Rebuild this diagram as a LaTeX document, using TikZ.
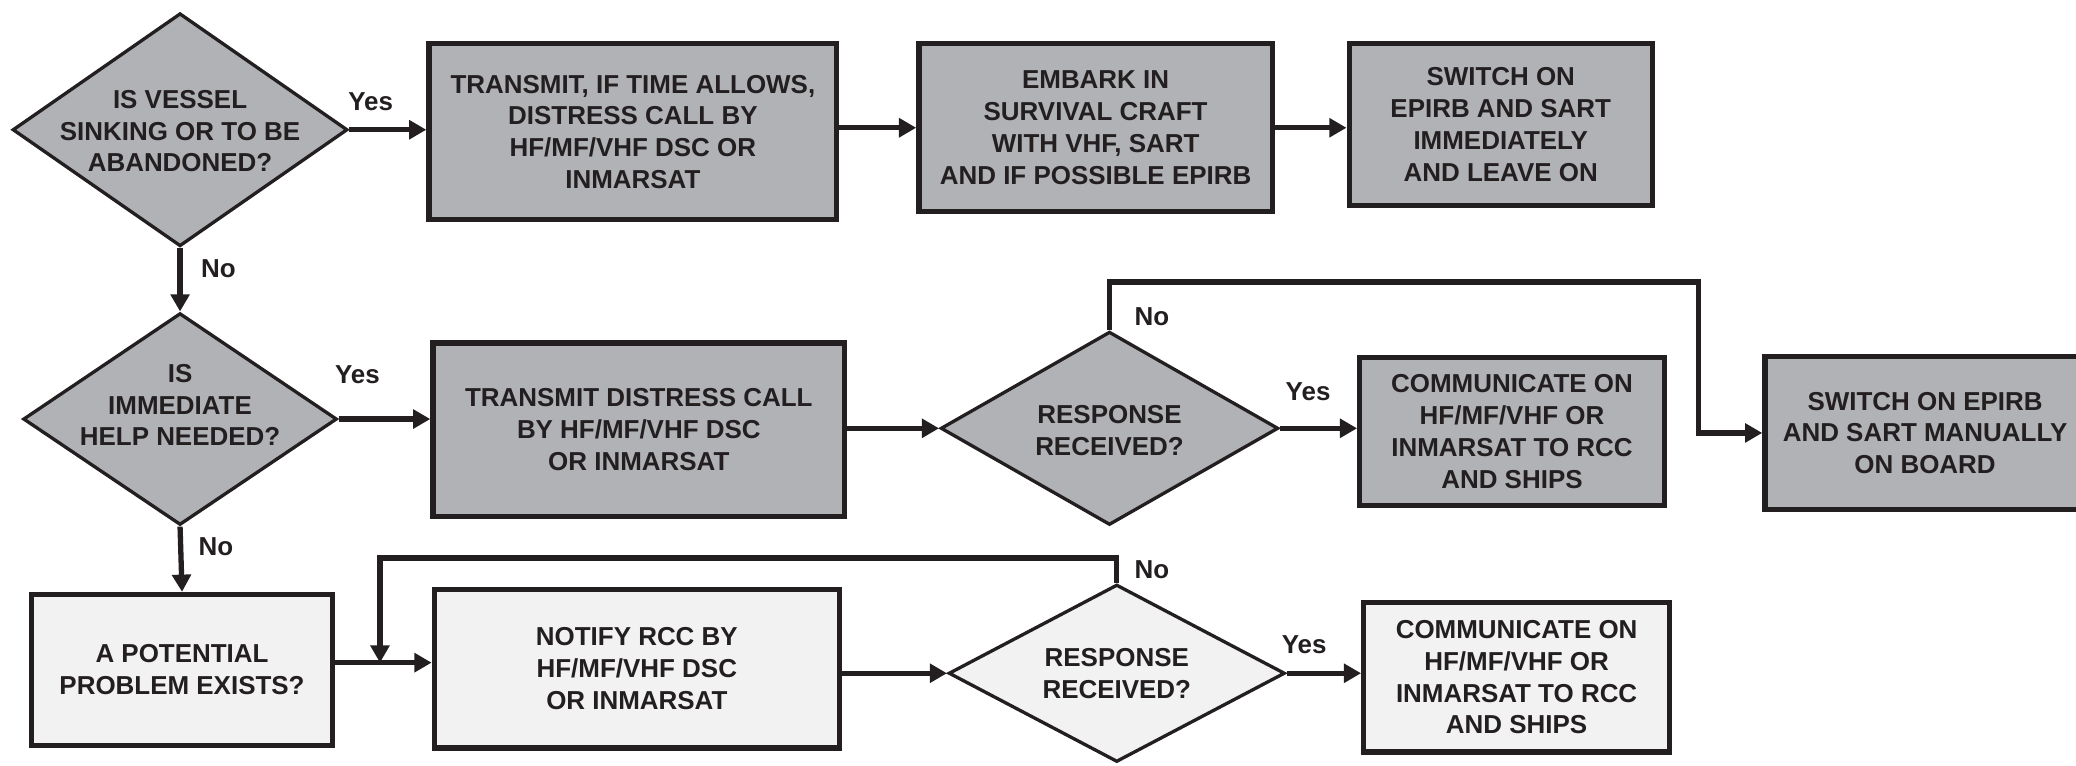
\documentclass[tikz,border=0pt]{standalone}
\usepackage{fontspec}
\setmainfont{Liberation Sans}
\usetikzlibrary{shapes.geometric,arrows.meta}
\definecolor{ink}{HTML}{231F20}
\definecolor{darkfill}{RGB}{177,178,182}
\definecolor{lightfill}{RGB}{242,242,242}
\newcommand{\flowfont}{\fontsize{19.6}{24}\selectfont\bfseries}
\tikzset{
 box/.style={draw=ink, line width=4pt, align=center, inner sep=0pt, font=\flowfont, text=ink},
 gbox/.style={box, fill=darkfill},
 lbox/.style={box, fill=lightfill},
 dia/.style={draw=ink, diamond, line width=2.5pt, inner sep=0pt},
 gdia/.style={dia, fill=darkfill},
 ldia/.style={dia, fill=lightfill},
 txt/.style={align=center, inner sep=0pt, font=\flowfont, text=ink},
 lbl/.style={inner sep=0pt, font=\flowfont, text=ink},
 conn/.style={draw=ink, line width=4pt, -{Triangle[length=13pt,width=14pt]}},
}
\begin{document}
\begin{tikzpicture}[x=1pt,y=1pt]
\fill[white] (0,0) rectangle (1568,-578);
\useasboundingbox (0,0) rectangle (1568,-578);
% row 1
\node[gdia, minimum width=253pt, minimum height=176pt] (d1) at (136,-98) {};
\node[txt] (d1t) at (136,-99) {IS VESSEL\\SINKING OR TO BE\\ABANDONED?};
\node[gbox, minimum width=308pt, minimum height=133pt] (b1) at (478,-99.5) {TRANSMIT, IF TIME ALLOWS,\\DISTRESS CALL BY\\HF/MF/VHF DSC OR\\INMARSAT};
\node[gbox, minimum width=267pt, minimum height=127pt] (b2) at (827.5,-96.5) {EMBARK IN\\SURVIVAL CRAFT\\WITH VHF, SART\\AND IF POSSIBLE EPIRB};
\node[gbox, minimum width=229pt, minimum height=122pt] (b3) at (1133.5,-94) {SWITCH ON\\EPIRB AND SART\\IMMEDIATELY\\AND LEAVE ON};
% row 2
\node[gdia, minimum width=237pt, minimum height=160pt] (d2) at (136,-316.5) {};
\node[txt] (d2t) at (136,-306) {IS\\IMMEDIATE\\HELP NEEDED?};
\node[gbox, minimum width=311pt, minimum height=131pt] (b4) at (482.5,-324.5) {TRANSMIT DISTRESS CALL\\BY HF/MF/VHF DSC\\OR INMARSAT};
\node[gdia, minimum width=255pt, minimum height=146pt] (d3) at (838,-323.5) {};
\node[txt] (d3t) at (838,-325) {RESPONSE\\RECEIVED?};
\node[gbox, minimum width=230pt, minimum height=112pt] (b5) at (1142,-326) {COMMUNICATE ON\\HF/MF/VHF OR\\INMARSAT TO RCC\\AND SHIPS};
\node[gbox, minimum width=242pt, minimum height=116pt] (b6) at (1454,-327) {SWITCH ON EPIRB\\AND SART MANUALLY\\ON BOARD};
% row 3
\node[lbox, minimum width=227pt, minimum height=114pt] (b7) at (137.5,-506) {A POTENTIAL\\PROBLEM EXISTS?};
\node[lbox, minimum width=306pt, minimum height=120pt] (b8) at (481,-505) {NOTIFY RCC BY\\HF/MF/VHF DSC\\OR INMARSAT};
\node[ldia, minimum width=254pt, minimum height=134pt] (d4) at (843.5,-508.5) {};
\node[txt] (d4t) at (843.5,-509) {RESPONSE\\RECEIVED?};
\node[lbox, minimum width=231pt, minimum height=113pt] (b9) at (1145.5,-511.5) {COMMUNICATE ON\\HF/MF/VHF OR\\INMARSAT TO RCC\\AND SHIPS};
% connectors row 1
\draw[conn] (d1.east) -- (d1.east -| b1.west);
\draw[conn] (b2.west -| b1.east) -- (b2.west);
\draw[conn] (b2.east) -- (b2.east -| b3.west);
\draw[conn] (d1.south) -- (d2.north);
% row 2
\draw[conn] (d2.east) -- (d2.east -| b4.west);
\draw[conn] (d3.west -| b4.east) -- (d3.west);
\draw[conn] (d3.east) -- (d3.east -| b5.west);
\coordinate (n3a) at (838,-213);
\coordinate (n3b) at (1283,-213);
\draw[conn] (d3.north) -- (n3a) -- (n3b) -- (n3b |- b6.west) -- (b6.west);
\draw[conn] (d2.south) -- (b7.north);
% row 3
\coordinate (j) at (287,-500.5);
\draw[conn] (b7.east |- j) -- (b8.west |- j);
\coordinate (n4a) at (843.5,-421.5);
\coordinate (n4b) at (287,-421.5);
\draw[conn] (d4.north) -- (n4a) -- (n4b) -- (j);
\draw[conn] (d4.west -| b8.east) -- (d4.west);
\draw[conn] (d4.east) -- (d4.east -| b9.west);
% labels
\node[lbl] (y1) at (280,-77) {Yes};
\node[lbl] (n1) at (165,-203) {No};
\node[lbl] (y2) at (270,-283) {Yes};
\node[lbl] (n2) at (163,-413) {No};
\node[lbl] (y3) at (988,-296) {Yes};
\node[lbl] (n3) at (870,-239) {No};
\node[lbl] (n4) at (870,-430) {No};
\node[lbl] (y4) at (985,-487) {Yes};
\end{tikzpicture}
\end{document}
